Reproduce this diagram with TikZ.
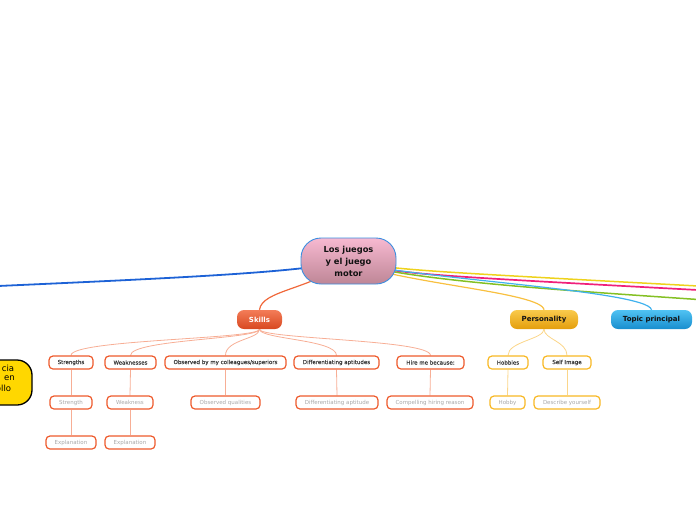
\documentclass[tikz,border=0pt]{standalone}
\usepackage{fontspec}
\setmainfont{DejaVu Sans}
\newfontfamily\semibold[FakeBold=0.3]{DejaVu Sans}
\usetikzlibrary{backgrounds}
\definecolor{skred}{HTML}{EE5A2C}
\definecolor{sklink}{HTML}{F7AE95}
\definecolor{peamb}{HTML}{F8B824}
\definecolor{pelink}{HTML}{FBD68A}
\definecolor{txtdark}{HTML}{3A3A3A}
\definecolor{txtgrey}{HTML}{A8A8A8}
\definecolor{cborder}{HTML}{3A8EE0}
\definecolor{lblue}{HTML}{1D62D6}
\definecolor{lyellow}{HTML}{EED21C}
\definecolor{lpink}{HTML}{F0207A}
\definecolor{lgreen}{HTML}{84C024}
\definecolor{ltopic}{HTML}{40B2EE}
\definecolor{lperson}{HTML}{F8C040}
\definecolor{lskills}{HTML}{F0683A}
\definecolor{gold}{HTML}{FFD700}
\tikzset{
  central/.style={rounded corners=20pt, draw=cborder, line width=0.9pt,
    top color={rgb,255:red,247;green,185;blue,209}, bottom color={rgb,255:red,190;green,134;blue,150},
    minimum width=95pt, minimum height=46pt, inner sep=0pt, align=center,
    font=\bfseries\fontsize{8.3}{12}\selectfont, text={rgb,255:red,17;green,17;blue,17}},
  lvlone/.style={rounded corners=7pt, minimum height=19pt, inner sep=0pt,
    font=\bfseries\fontsize{7}{8}\selectfont},
  skillsbox/.style={lvlone, top color={rgb,255:red,243;green,124;blue,88}, bottom color={rgb,255:red,216;green,72;blue,32}, text=white},
  personbox/.style={lvlone, top color={rgb,255:red,249;green,202;blue,76}, bottom color={rgb,255:red,228;green,158;blue,12}, text={rgb,255:red,20;green,20;blue,20}},
  topicbox/.style={lvlone, top color={rgb,255:red,80;green,194;blue,243}, bottom color={rgb,255:red,24;green,142;blue,206}, text={rgb,255:red,17;green,17;blue,17}},
  childbox/.style={draw=skred, line width=1.2pt, fill=white, rounded corners=4pt,
    minimum height=13pt, inner sep=0pt, text=txtdark, font=\semibold\fontsize{5.5}{6}\selectfont},
  gchildbox/.style={childbox, text=txtgrey, font=\fontsize{5.5}{6}\selectfont},
  pchildbox/.style={childbox, draw=peamb},
  pgchildbox/.style={gchildbox, draw=peamb},
  sklinkst/.style={draw=sklink, line width=0.8pt},
  pelinkst/.style={draw=pelink, line width=0.8pt},
  yellowbox/.style={draw=black, line width=1.3pt, fill=gold, rounded corners=15pt},
  ylabel/.style={anchor=east, inner sep=0pt, font=\fontsize{8.5}{10}\selectfont, text=black},
}
\begin{document}
\begin{tikzpicture}[x=1pt,y=-1pt]
\useasboundingbox (0,0) rectangle (696,520);

% central and first level
\node[central] (c) at (348.5,261) {Los juegos\\y el juego\\motor};
\node[skillsbox, minimum width=45pt] (sk) at (259.5,319.5) {Skills};
\node[personbox, minimum width=68pt] (pe) at (544,319.5) {Personality};
\node[topicbox, minimum width=81pt] (tp) at (651.5,319.5) {Topic principal};

% left yellow node (partly off the picture)
\node[yellowbox, minimum width=80pt, minimum height=45pt] (yl) at (-8,382.5) {};
\node[ylabel] (yl1) at (14.3,368) {cia};
\node[ylabel] (yl2) at (15,378) {en};
\node[ylabel] (yl3) at (11.3,388) {ollo};

% skills children
\node[childbox, minimum width=44pt] (s1) at (71,362.5) {Strengths};
\node[childbox, minimum width=51pt] (s2) at (130.5,362.5) {Weaknesses};
\node[childbox, minimum width=121pt] (s3) at (225.5,362.5) {Observed by my colleagues/superiors};
\node[childbox, minimum width=85pt] (s4) at (336.5,362.5) {Differentiating aptitudes};
\node[childbox, minimum width=67pt] (s5) at (430.5,362.5) {Hire me because:};

\node[gchildbox, minimum width=42pt] (g1) at (71,402.5) {Strength};
\node[gchildbox, minimum width=46pt] (g2) at (130,402.5) {Weakness};
\node[gchildbox, minimum width=69pt] (g3) at (225.5,402.5) {Observed qualities};
\node[gchildbox, minimum width=82pt] (g4) at (337,402.5) {Differentiating aptitude};
\node[gchildbox, minimum width=86pt] (g5) at (430,402.5) {Compelling hiring reason};

\node[gchildbox, minimum width=50pt] (e1) at (71,442.5) {Explanation};
\node[gchildbox, minimum width=50pt] (e2) at (130,442.5) {Explanation};

% personality children
\node[pchildbox, minimum width=40pt] (p1) at (508,362.5) {Hobbies};
\node[pchildbox, minimum width=48pt] (p2) at (567,362.5) {Self Image};
\node[pgchildbox, minimum width=35pt] (q1) at (507.5,402.5) {Hobby};
\node[pgchildbox, minimum width=66pt] (q2) at (567,402.5) {Describe yourself};

% free ends of the lines leaving the picture
\coordinate (eL) at (-2,286);
\coordinate (eY) at (698,286);
\coordinate (eP) at (698,290);
\coordinate (eG) at (698,299.5);

\begin{pgfonlayer}{background}
  \draw[lblue, line width=1.8pt] (c.center) .. controls (300,272) and (200,277) .. (eL);
  \draw[lyellow, line width=1.5pt] (c.center) .. controls (400,270) .. (eY);
  \draw[lpink, line width=1.7pt] (c.center) .. controls (400,274) .. (eP);
  \draw[lgreen, line width=1.5pt] (c.center) .. controls (400,280) and (560,290) .. (eG);
  \draw[ltopic, line width=1.2pt] (c.center) .. controls (400,278) and (648,290) .. (tp.north);
  \draw[lperson, line width=1.2pt] (c.center) .. controls (395,283) and (542,292) .. (pe.north);
  \draw[lskills, line width=1.2pt] (c.center) .. controls (310,290) and (262,290) .. (sk.north);

  \foreach \n in {s1,s2,s3,s4,s5}
    \draw[sklinkst] (sk.south) .. controls +(0,10) and +(0,-16) .. (\n.north);
  \draw[sklinkst] (s1.south) -- (g1.north);
  \draw[sklinkst] (s2.south) -- (g2.north);
  \draw[sklinkst] (s3.south) -- (g3.north);
  \draw[sklinkst] (s4.south) -- (g4.north);
  \draw[sklinkst] (s5.south) -- (g5.north);
  \draw[sklinkst] (g1.south) -- (e1.north);
  \draw[sklinkst] (g2.south) -- (e2.north);

  \foreach \n in {p1,p2}
    \draw[pelinkst] (pe.south) .. controls +(0,10) and +(0,-14) .. (\n.north);
  \draw[pelinkst] (p1.south) -- (q1.north);
  \draw[pelinkst] (p2.south) -- (q2.north);
\end{pgfonlayer}
\end{tikzpicture}
\end{document}
